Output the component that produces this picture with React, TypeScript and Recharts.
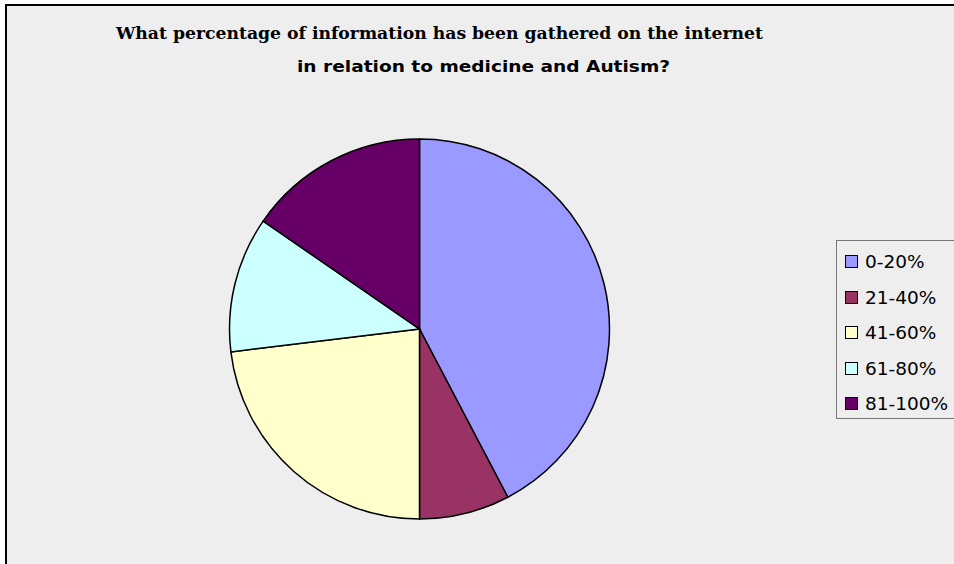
import React from "react";
import { PieChart, Pie, Cell, Legend } from "recharts";

const CATEGORIES = ["0-20%", "21-40%", "41-60%", "61-80%", "81-100%"];
const COUNTS = [11, 2, 6, 3, 4];
const COLORS = ["#9999ff", "#993366", "#ffffcc", "#ccffff", "#660066"];

const TITLE_LINE_1 = "What percentage of information has been gathered on the internet";
const TITLE_LINE_2 = "in relation to medicine and Autism?";

const data = CATEGORIES.map((name, i) => ({ name, value: COUNTS[i] }));

function LegendBox() {
  return (
    <div
      style={{
        width: 118,
        height: 179,
        borderLeft: "1px solid #777",
        borderTop: "1px solid #777",
        borderBottom: "1px solid #777",
        background: "#eeeeee",
        boxSizing: "border-box",
        paddingTop: 3,
      }}
    >
      {data.map((d, i) => (
        <div key={d.name} style={{ display: "flex", alignItems: "center", height: 35.5, paddingLeft: 8 }}>
          <div
            style={{
              width: 11,
              height: 11,
              border: "1px solid #000",
              background: COLORS[i],
              marginRight: 7,
              flexShrink: 0,
            }}
          />
          <span style={{ fontFamily: "DejaVu Sans", fontSize: 18.5, color: "#000", whiteSpace: "nowrap" }}>{d.name}</span>
        </div>
      ))}
    </div>
  );
}

export default function App() {
  return (
    <div style={{ position: "absolute", left: 0, top: 0, width: 954, height: 564, background: "#fff", overflow: "hidden" }}>
      <div
        style={{
          position: "absolute",
          left: 5,
          top: 4,
          width: 949,
          height: 560,
          background: "#eeeeee",
          borderLeft: "2px solid #000",
          borderTop: "2px solid #000",
          boxSizing: "border-box",
        }}
      />
      <svg width={954} height={90} style={{ position: "absolute", left: 0, top: 0 }}>
        <text x={116} y={39} fontFamily="DejaVu Serif" fontWeight="bold" fontSize={16.5} fill="#000" textLength={647} lengthAdjust="spacingAndGlyphs">
          {TITLE_LINE_1}
        </text>
        <text x={297} y={72} fontFamily="DejaVu Sans" fontWeight="bold" fontSize={16} fill="#000" textLength={373} lengthAdjust="spacingAndGlyphs">
          {TITLE_LINE_2}
        </text>
      </svg>
      <div style={{ position: "absolute", left: 0, top: 0 }}>
        <PieChart width={954} height={564} margin={{ top: 0, right: 0, bottom: 0, left: 0 }}>
          <Pie
            data={data}
            dataKey="value"
            nameKey="name"
            cx={419.5}
            cy={329}
            outerRadius={190}
            startAngle={90}
            endAngle={-270}
            stroke="#000"
            strokeWidth={1.5}
            isAnimationActive={false}
          >
            {data.map((d, i) => (
              <Cell key={d.name} fill={COLORS[i]} />
            ))}
          </Pie>
          <Legend
            content={() => <LegendBox />}
            wrapperStyle={{ position: "absolute", left: 836, top: 240, width: 118 }}
          />
        </PieChart>
      </div>
    </div>
  );
}
